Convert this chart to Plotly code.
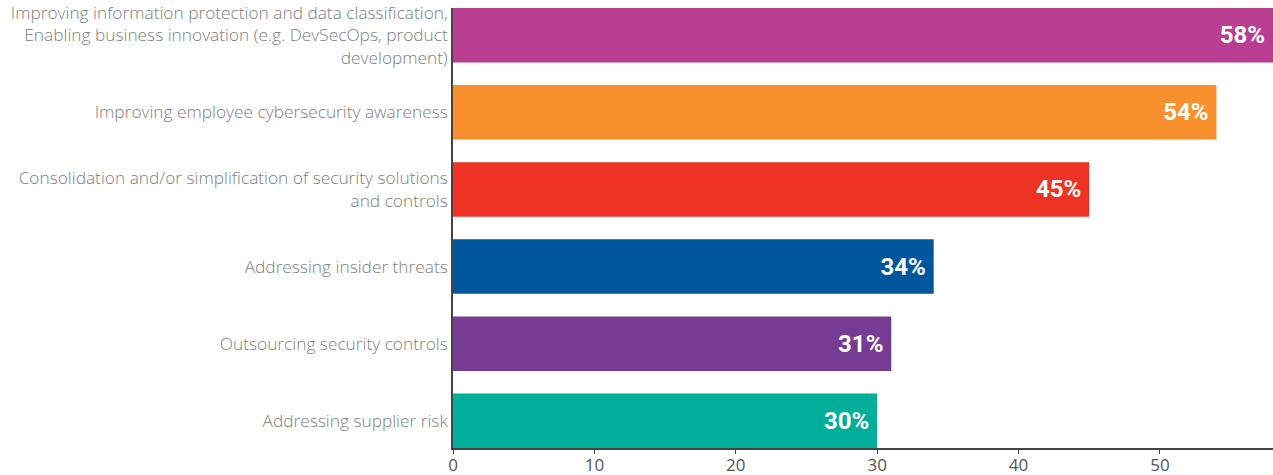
import plotly.graph_objects as go

categories = [
    "Improving information protection and data classification,<br>Enabling business innovation (e.g. DevSecOps, product<br>development)",
    "Improving employee cybersecurity awareness",
    "Consolidation and/or simplification of security solutions<br>and controls",
    "Addressing insider threats",
    "Outsourcing security controls",
    "Addressing supplier risk",
]
values = [58, 54, 45, 34, 31, 30]
labels = ["58%", "54%", "45%", "34%", "31%", "30%"]
colors = ["#B93E92", "#F7902D", "#EE3224", "#00579E", "#763C94", "#00AE9A"]
x_ticks = [0, 10, 20, 30, 40, 50]

fig = go.Figure(go.Bar(
    y=categories, x=values, orientation="h",
    marker=dict(color=colors, line=dict(width=0)),
    text=labels, texttemplate="%{text}\u2009",
    textposition="inside", insidetextanchor="end",
    textfont=dict(family="Roboto", size=24, color="white", weight="bold"),
    width=0.707,
))

fig.update_layout(
    width=1273, height=475, autosize=False,
    margin=dict(l=453, r=0, t=8, b=27),
    paper_bgcolor="white", plot_bgcolor="white",
    showlegend=False,
    xaxis=dict(
        range=[0, 58], tickvals=x_ticks, showgrid=False, zeroline=False,
        showline=True, linecolor="#444", linewidth=1.5,
        ticks="outside", ticklen=4, tickcolor="#444",
        tickfont=dict(family="Open Sans", size=17, color="#555"),
        ticklabelstandoff=-3,
        automargin=False,
    ),
    yaxis=dict(
        categoryorder="array", categoryarray=categories,
        range=[5.354, -0.354], showgrid=False, zeroline=False,
        showline=True, linecolor="#444", linewidth=1.5,
        ticks="", ticklabelstandoff=0,
        tickfont=dict(family="Open Sans", size=17.3, color="#808080", weight=300),
        automargin=False,
    ),
)

fig.write_html(
    "out.html",
    config={"responsive": False, "displayModeBar": False},
    post_script="document.body.style.margin='0';document.body.style.overflow='hidden';",
)
